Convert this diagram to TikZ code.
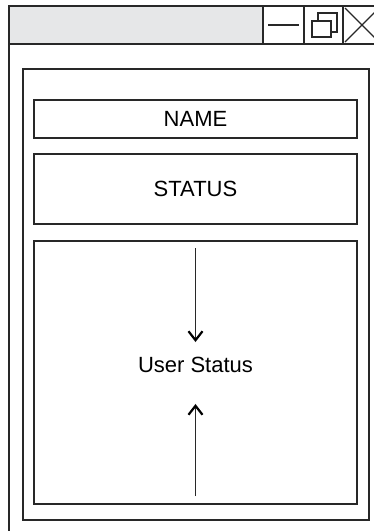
\documentclass[tikz,border=0pt]{standalone}
\usepackage{fontspec}
\setmainfont{Liberation Sans}
\usetikzlibrary{arrows.meta}
\usepackage{xcolor}
\definecolor{linegray}{RGB}{40,40,40}
\definecolor{bargray}{RGB}{230,231,232}

\begin{document}
\begin{tikzpicture}[x=1pt,y=-1pt,
  frame/.style={draw=linegray,line width=1.6pt},
  box/.style={draw=linegray,line width=1.5pt,minimum width=323pt,inner sep=0pt,font=\fontsize{22}{26}\selectfont},
  button/.style={frame,fill=white,minimum width=39pt,minimum height=38pt,inner sep=0pt},
  flow/.style={-{Straight Barb[length=9pt,width=14pt,line width=2.2pt,black]},line width=1.3pt,linegray}]
  \useasboundingbox (0,0) rectangle (374,531);
  \clip (0,0) rectangle (374,531);

  % window and title bar
  \draw[frame,fill=white] (9,6) rectangle (400,560);
  \draw[frame,fill=bargray] (9,6) rectangle (400,44);
  \node(minbtn) at (283.5,25)[button,minimum width=41pt]{};
  \node(maxbtn) at (323.5,25)[button]{};
  \node(closebtn) at (362.5,25)[button]{};
  \draw[linegray,line width=1.6pt] (268,25) -- (299,25);
  \draw[linegray,line width=1.4pt,fill=white] (318,13) rectangle (337,32);
  \draw[linegray,line width=1.4pt,fill=white] (312,21) rectangle (331,37);
  \draw[linegray,line width=1.1pt] (345,8) -- (379,42);
  \draw[linegray,line width=1.1pt] (345,42) -- (379,8);

  % panel
  \draw[frame,line width=1.5pt] (23,69) rectangle (369,520);
  \node(name) at (195.5,119)[box,minimum height=38pt]{NAME};
  \node(status) at (195.5,189)[box,minimum height=70pt]{STATUS};
  \node(main) at (195.5,372.5)[box,minimum height=263pt]{};
  \node(user) at (195.5,365)[font=\fontsize{22}{26}\selectfont,inner xsep=0pt,inner ysep=15pt]{User Status};

  \coordinate(top) at (195.5,248);
  \coordinate(bottom) at (195.5,496);
  \draw[flow] (top) -- (user.north);
  \draw[flow,shorten >=16pt] (bottom) -- (user.south);
\end{tikzpicture}
\end{document}
